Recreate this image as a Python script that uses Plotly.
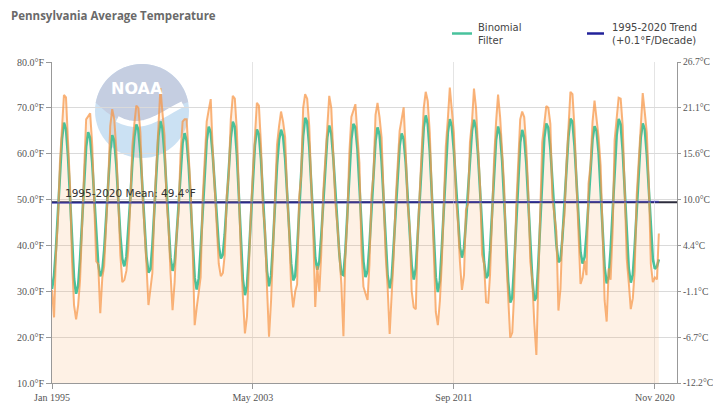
import numpy as np
import pandas as pd
import plotly.graph_objects as go

# ---------------- data (monthly Pennsylvania average temperature, °F) ----------------
t1995 = [30.3, 24.3, 38.0, 45.5, 58.0, 67.0, 72.8, 72.3, 61.0, 53.0, 36.5, 27.0]
t1996 = [23.9, 27.0, 32.5, 46.5, 56.0, 67.5, 68.2, 68.8, 62.0, 50.5, 36.5, 36.0]
t1997 = [25.2, 33.0, 35.5, 45.0, 53.5, 66.0, 69.7, 67.5, 61.0, 50.0, 38.0, 32.0]
t1998 = [32.5, 34.5, 39.0, 49.5, 61.5, 66.5, 70.5, 70.0, 64.5, 52.0, 42.0, 36.0]
t1999 = [27.0, 31.5, 34.0, 49.0, 58.0, 68.0, 74.3, 69.0, 64.0, 50.0, 44.0, 34.0]
t2000 = [25.9, 32.0, 42.0, 47.5, 60.0, 67.0, 67.5, 67.5, 60.5, 52.0, 39.0, 22.6]
t2001 = [26.5, 30.5, 33.0, 50.0, 58.5, 67.0, 69.5, 71.9, 60.5, 51.5, 45.0, 36.0]
t2002 = [33.3, 34.0, 38.0, 51.0, 55.5, 67.5, 72.6, 72.0, 65.0, 50.0, 38.0, 29.0]
t2003 = [20.8, 24.5, 37.5, 47.0, 56.0, 65.0, 71.1, 70.5, 62.0, 48.5, 43.5, 31.0]
t2004 = [20.1, 28.0, 40.0, 49.5, 62.0, 66.0, 69.2, 67.0, 63.5, 51.5, 43.0, 31.0]
t2005 = [26.5, 30.0, 31.5, 50.5, 55.0, 70.0, 73.0, 72.0, 66.0, 53.5, 43.0, 26.6]
t2006 = [35.5, 29.9, 38.0, 51.5, 58.5, 66.5, 72.6, 70.0, 60.0, 49.5, 44.5, 38.0]
t2007 = [31.5, 20.2, 37.5, 46.0, 60.0, 68.0, 69.5, 70.8, 64.0, 58.0, 39.0, 31.0]
t2008 = [29.5, 28.1, 36.0, 51.0, 55.5, 68.5, 71.1, 68.0, 63.5, 49.0, 38.0, 31.0]
t2009 = [20.7, 29.5, 37.0, 49.5, 58.5, 65.0, 67.5, 70.1, 60.5, 49.0, 44.0, 30.0]
t2010 = [26.5, 26.1, 42.0, 52.5, 61.0, 70.0, 73.5, 71.5, 64.5, 52.0, 40.0, 25.5]
t2011 = [22.6, 28.0, 36.0, 49.0, 61.5, 67.5, 74.4, 69.5, 64.5, 50.5, 45.0, 36.5]
t2012 = [30.3, 33.5, 47.7, 49.0, 62.5, 67.0, 74.2, 70.0, 62.0, 53.0, 38.0, 36.0]
t2013 = [27.6, 27.5, 33.5, 48.5, 58.5, 67.0, 72.9, 68.0, 60.5, 53.0, 37.5, 30.0]
t2014 = [19.9, 21.0, 29.5, 48.0, 59.5, 67.5, 69.2, 68.0, 61.5, 52.0, 36.5, 32.5]
t2015 = [23.0, 16.1, 31.5, 48.0, 62.5, 66.5, 70.4, 70.0, 66.5, 50.5, 46.5, 43.0]
t2016 = [25.8, 30.5, 42.5, 46.5, 57.5, 67.0, 73.5, 73.0, 65.5, 53.5, 42.0, 31.6]
t2017 = [33.0, 36.7, 33.5, 53.5, 57.5, 67.0, 71.6, 67.5, 63.5, 57.5, 40.0, 28.0]
t2018 = [23.4, 35.0, 32.5, 43.0, 63.0, 67.5, 72.2, 72.0, 66.0, 52.0, 37.0, 32.0]
t2019 = [26.1, 28.5, 34.5, 51.0, 59.0, 66.0, 73.2, 69.0, 64.5, 53.5, 36.0, 32.0]
t2020 = [33.0, 32.6, 42.6]

start_month = "1995-01-01"
mean_value = 49.4
trend_dates = ["1995-01-01", "2020-03-01"]
trend_values = [49.28, 49.53]

x_tick_dates = ["1995-01-01", "2003-05-01", "2011-09-01", "2020-01-01"]
x_tick_labels = ["Jan 1995", "May 2003", "Sep 2011", "Nov 2020"]
y_ticks_f = [10, 20, 30, 40, 50, 60, 70, 80]
y_labels_f = ["10.0°F", "20.0°F", "30.0°F", "40.0°F", "50.0°F", "60.0°F", "70.0°F", "80.0°F"]
y_labels_c = ["-12.2°C", "-6.7°C", "-1.1°C", "4.4°C", "10.0°C", "15.6°C", "21.1°C", "26.7°C"]

# ---------------- assemble ----------------
years = [t1995, t1996, t1997, t1998, t1999, t2000, t2001, t2002, t2003, t2004,
         t2005, t2006, t2007, t2008, t2009, t2010, t2011, t2012, t2013, t2014,
         t2015, t2016, t2017, t2018, t2019, t2020]
temps = np.array([v for y in years for v in y], dtype=float)
dates = pd.date_range(start=start_month, periods=len(temps), freq="MS")

# binomial filter (9-point), truncated & renormalised at the ends
w = np.array([1, 8, 28, 56, 70, 56, 28, 8, 1], dtype=float)
h = len(w) // 2
filt = np.empty_like(temps)
for i in range(len(temps)):
    lo, hi = max(0, i - h), min(len(temps), i + h + 1)
    ww = w[lo - i + h: hi - i + h]
    filt[i] = np.sum(ww * temps[lo:hi]) / ww.sum()

# ---------------- figure ----------------
L, R, T, B = 52, 677, 62, 383
PW, PH = R - L, B - T
def px(x): return (x - L) / PW
def py(y): return (B - y) / PH

TEAL = "#48c29c"
NAVY = "#22229a"

fig = go.Figure()
fig.add_trace(go.Scatter(x=dates, y=temps, mode="lines", line=dict(width=0),
                         fill="tozeroy", fillcolor="rgba(250,175,110,0.18)",
                         hoverinfo="skip", showlegend=False))
fig.add_trace(go.Scatter(x=dates, y=filt, mode="lines", line=dict(color=TEAL, width=2.6),
                         name="Binomial Filter", showlegend=False))
fig.add_trace(go.Scatter(x=dates, y=temps, mode="lines",
                         line=dict(color="rgba(247,150,70,0.72)", width=2),
                         name="Monthly", showlegend=False))
fig.add_trace(go.Scatter(x=trend_dates, y=trend_values, mode="lines",
                         line=dict(color="rgba(40,40,200,0.55)", width=2),
                         name="Trend", showlegend=False))
fig.add_trace(go.Scatter(x=[dates[0]], y=[mean_value], yaxis="y2", mode="markers",
                         marker=dict(opacity=0), hoverinfo="skip", showlegend=False))

shapes = []
# NOAA watermark
cx, cy, r = 142, 111, 47
shapes.append(dict(type="circle", xref="paper", yref="paper",
                   x0=px(cx - r), x1=px(cx + r), y0=py(cy + r), y1=py(cy - r),
                   fillcolor="#cbe1f3", line=dict(width=0), layer="below"))
ang = np.linspace(np.radians(170), np.radians(10), 40)
arc = [(cx + r * np.cos(a), cy - r * np.sin(a)) for a in ang]
tt = np.linspace(0, 1, 16)
wave = [(188.3 - 82 * s, 102 + 26 * np.sin(np.pi * s * 0.85) ** 1.2 * (0.6 + 0.4 * s)) for s in tt]
pts = arc + wave + [(cx + r * np.cos(np.radians(170)), cy - r * np.sin(np.radians(170)))]
path = "M " + " L ".join(f"{px(a):.4f},{py(b):.4f}" for a, b in pts) + " Z"
shapes.append(dict(type="path", xref="paper", yref="paper", path=path,
                   fillcolor="#c5cee1", line=dict(width=0), layer="below"))
wpath = "M " + " L ".join(f"{px(a):.4f},{py(b):.4f}" for a, b in wave[1:-2])
shapes.append(dict(type="path", xref="paper", yref="paper", path=wpath,
                   line=dict(color="white", width=6), layer="below"))
# mean line
shapes.append(dict(type="line", xref="paper", yref="y", x0=0, x1=1, y0=mean_value, y1=mean_value,
                   line=dict(color="#2c2c3c", width=2), layer="below"))
# manual legend
shapes.append(dict(type="line", xref="paper", yref="paper", x0=px(452), x1=px(472),
                   y0=py(33.5), y1=py(33.5), line=dict(color=TEAL, width=2.5)))
shapes.append(dict(type="line", xref="paper", yref="paper", x0=px(587), x1=px(604),
                   y0=py(33.5), y1=py(33.5), line=dict(color=NAVY, width=2.5)))

annotations = [
    dict(text="NOAA", xref="paper", yref="paper", x=px(137), y=py(88), showarrow=False,
         xanchor="center", yanchor="middle",
         font=dict(family="DejaVu Sans", size=16, color="white", weight="bold")),
    dict(text="1995-2020 Mean: 49.4°F", xref="paper", yref="y", x=px(63), y=mean_value,
         xanchor="left", yanchor="bottom", yshift=1, showarrow=False,
         font=dict(family="DejaVu Sans", size=10.5, color="#333")),
    dict(text="Binomial<br>Filter", xref="paper", yref="paper", x=px(476), y=py(33.5),
         xanchor="left", yanchor="middle", align="left", showarrow=False,
         font=dict(family="DejaVu Sans", size=10, color="#444")),
    dict(text="1995-2020 Trend<br>(+0.1°F/Decade)", xref="paper", yref="paper", x=px(610), y=py(33.5),
         xanchor="left", yanchor="middle", align="left", showarrow=False,
         font=dict(family="DejaVu Sans", size=10, color="#444")),
]

tickfont = dict(family="Liberation Serif", size=10, color="#555")
fig.update_layout(
    width=713, height=404,
    margin=dict(l=L, r=713 - R, t=T, b=404 - B, autoexpand=False),
    paper_bgcolor="white", plot_bgcolor="white",
    title=dict(text="<b>Pennsylvania Average Temperature</b>", x=11 / 713, xanchor="left",
               y=1 - 16 / 404, yanchor="middle",
               font=dict(family="Open Sans", size=11.5, color="#6a6a6a")),
    xaxis=dict(type="date", range=["1995-01-01", "2020-12-01"], tickvals=x_tick_dates,
               ticktext=x_tick_labels, showgrid=True, gridcolor="#e4e4e4", gridwidth=1,
               showline=True, linecolor="#999", ticks="outside", ticklen=5, tickcolor="#999",
               tickfont=tickfont, zeroline=False, automargin=False),
    yaxis=dict(range=[10, 80], tickvals=y_ticks_f, ticktext=y_labels_f, showgrid=True,
               gridcolor="#dadada", showline=True, linecolor="#999", ticks="outside",
               ticklen=5, tickcolor="#999", tickfont=tickfont, zeroline=False, automargin=False),
    yaxis2=dict(range=[10, 80], overlaying="y", side="right", tickvals=y_ticks_f,
                ticktext=y_labels_c, showgrid=False, showline=True, linecolor="#999",
                ticks="outside", ticklen=3, tickcolor="#999",
                tickfont=dict(family="Liberation Serif", size=9.6, color="#555"),
                zeroline=False, automargin=False),
    shapes=shapes, annotations=annotations, showlegend=False,
)

fig.write_html("out.html", config={"displayModeBar": False},
               post_script="document.body.style.margin='0';document.body.style.padding='0';")
